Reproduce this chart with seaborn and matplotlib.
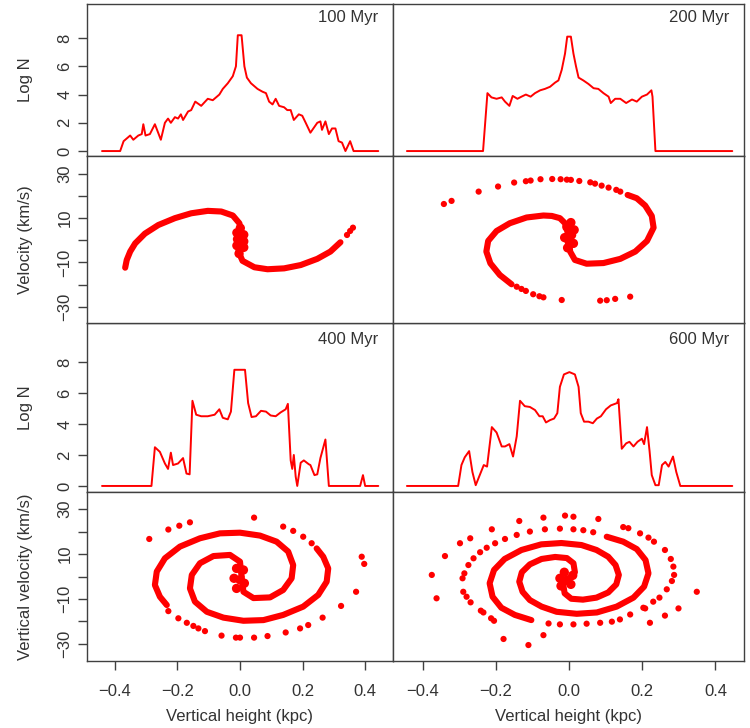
import matplotlib
matplotlib.use("Agg")
import matplotlib.pyplot as plt
import seaborn as sns

# ---------------- data: Log N histograms ----------------
h100_x = [-0.441,-0.383,-0.372,-0.351,-0.341,-0.325,-0.314,-0.309,-0.302,-0.288,-0.272,-0.253,-0.240,-0.230,-0.221,-0.208,-0.198,-0.189,-0.182,-0.166,-0.156,-0.143,-0.124,-0.103,-0.087,-0.066,-0.055,-0.039,-0.023,-0.013,-0.007,0.001,0.005,0.014,0.022,0.035,0.056,0.072,0.083,0.093,0.104,0.114,0.125,0.141,0.151,0.162,0.172,0.188,0.199,0.210,0.225,0.247,0.257,0.262,0.273,0.284,0.294,0.305,0.315,0.326,0.337,0.352,0.363,0.442]
h100_y = [0,0,0.7,1.1,0.8,1.1,1.2,1.9,1.1,1.2,1.9,0.8,2.0,2.3,2.0,2.4,2.3,2.6,2.2,2.8,2.9,3.5,3.2,3.7,3.6,4.0,4.4,4.8,5.3,6.0,8.2,8.2,8.2,6.0,5.2,4.8,4.4,4.2,4.1,3.5,3.3,3.7,3.2,3.1,2.9,2.9,2.2,2.6,2.5,2.0,1.3,2.0,2.1,1.5,2.1,1.2,1.6,1.6,0.7,0.6,0.0,0.7,0.0,0.0]

h200_x = [-0.443,-0.235,-0.223,-0.212,-0.198,-0.184,-0.175,-0.163,-0.154,-0.141,-0.130,-0.118,-0.105,-0.093,-0.079,-0.066,-0.052,-0.038,-0.029,-0.020,-0.011,-0.005,0.005,0.012,0.019,0.026,0.039,0.053,0.067,0.080,0.094,0.108,0.114,0.126,0.140,0.156,0.172,0.185,0.199,0.213,0.225,0.228,0.236,0.446]
h200_y = [0,0,4.1,3.8,3.7,3.8,3.5,3.2,3.9,3.7,3.85,4.0,3.85,4.1,4.3,4.4,4.55,4.85,5.0,5.75,6.9,8.1,8.1,6.9,6.0,5.2,5.0,4.75,4.45,4.4,4.1,3.85,3.4,3.7,3.7,3.4,3.65,3.5,3.85,4.0,4.3,3.85,0,0]

h400_x = [-0.441,-0.283,-0.272,-0.256,-0.240,-0.230,-0.221,-0.214,-0.198,-0.182,-0.171,-0.161,-0.152,-0.140,-0.124,-0.103,-0.081,-0.066,-0.055,-0.039,-0.029,-0.018,-0.005,0.016,0.026,0.037,0.051,0.067,0.083,0.098,0.114,0.130,0.146,0.153,0.162,0.167,0.172,0.178,0.183,0.194,0.204,0.220,0.225,0.238,0.247,0.257,0.273,0.284,0.384,0.393,0.400,0.442]
h400_y = [0,0,2.5,2.2,1.45,1.1,2.15,1.35,1.45,1.8,0.8,0.75,5.5,4.6,4.5,4.5,4.6,4.95,4.4,4.3,4.8,7.5,7.5,7.5,5.35,4.45,4.5,4.85,4.8,4.55,4.5,4.75,4.95,5.3,1.65,1.1,2.0,0.6,0,1.5,1.65,1.4,1.35,0.7,0.75,1.8,3.0,0,0,0.7,0,0]

h600_x = [-0.443,-0.303,-0.294,-0.285,-0.273,-0.264,-0.255,-0.244,-0.233,-0.224,-0.211,-0.198,-0.184,-0.175,-0.163,-0.153,-0.143,-0.134,-0.121,-0.107,-0.093,-0.081,-0.072,-0.063,-0.052,-0.041,-0.032,-0.025,-0.014,0.001,0.016,0.026,0.032,0.041,0.053,0.065,0.076,0.087,0.101,0.114,0.131,0.135,0.144,0.156,0.165,0.176,0.187,0.199,0.205,0.213,0.220,0.226,0.236,0.245,0.254,0.263,0.272,0.284,0.293,0.304,0.446]
h600_y = [0,0,1.35,1.85,2.25,0.9,0.05,0.7,1.35,1.25,3.8,3.45,2.55,2.55,2.7,1.9,3.2,5.5,5.15,5.1,4.9,4.5,4.5,4.1,4.25,4.35,4.7,6.4,7.2,7.35,7.2,6.4,4.7,4.15,4.15,4.05,4.35,4.5,4.95,5.2,5.35,5.6,2.4,2.75,2.85,2.55,2.85,3.05,2.7,3.8,2.25,0.7,0.05,0.05,1.35,1.55,1.25,1.9,0.9,0,0]

# ---------------- data: phase-space (height, velocity) ----------------
# 100 Myr
v100_arm_x = [-0.367,-0.362,-0.351,-0.335,-0.304,-0.261,-0.208,-0.156,-0.103,-0.060,-0.023,-0.002,0.005,0.001,-0.005,0.008,0.046,0.088,0.141,0.194,0.247,0.289,0.321]
v100_arm_v = [-12.4,-8.9,-5.1,-1.4,3.0,6.9,10.0,12.2,13.3,13.0,11.2,7.7,3.6,-0.9,-5.1,-9.3,-12.2,-13.1,-12.7,-11.2,-8.4,-5.1,-0.9]
v100_dot_x = [0.342,0.352,0.361]
v100_dot_v = [2.4,4.2,5.7]
v100_core_x = [-0.010,0.012,-0.010,0.012,0.001,-0.003,0.012,-0.008]
v100_core_v = [3.4,2.5,-2.4,-3.2,5.5,-6.0,-0.5,0.5]

# 200 Myr
v200_arm1_x = [-0.002,-0.011,-0.025,-0.047,-0.070,-0.116,-0.162,-0.198,-0.221,-0.226,-0.215,-0.189,-0.157]
v200_arm1_v = [2.4,7.7,10.0,11.0,11.2,10.3,7.7,4.2,-0.3,-5.1,-10.4,-15.7,-19.9]
v200_arm2_x = [0.001,0.003,0.016,0.048,0.094,0.140,0.181,0.213,0.231,0.226,0.208,0.185,0.160]
v200_arm2_v = [-1.4,-5.1,-8.9,-10.6,-10.3,-8.4,-5.1,-0.3,5.7,11.0,15.7,19.0,20.5]
v200_dot_x = [-0.143,-0.130,-0.118,-0.098,-0.081,-0.070,-0.020,0.085,0.103,0.126,0.167,
              0.140,0.129,0.108,0.089,0.071,0.058,0.028,0.005,-0.006,-0.023,-0.046,-0.078,-0.105,-0.118,-0.150,-0.194,-0.247,-0.321,-0.342]
v200_dot_v = [-21.0,-22.0,-22.9,-24.4,-25.3,-25.8,-27.0,-27.3,-27.1,-26.5,-25.5,
              22.0,22.8,23.8,24.7,25.6,26.2,26.8,27.3,27.4,27.6,27.7,27.6,27.0,26.7,26.1,24.3,22.0,17.8,16.4]
v200_core_x = [-0.006,0.007,0.012,-0.004,-0.012,0.014,0.000,0.005]
v200_core_v = [6.0,2.4,-1.4,-3.4,1.2,4.7,-0.5,8.0]

# 400 Myr
v400_armA_x = [0.005,0.000,-0.032,-0.085,-0.128,-0.154,-0.160,-0.144,-0.106,-0.053,0.011,0.075,0.138,0.202,0.250,0.277,0.282,0.266,0.245]
v400_armA_v = [-0.1,6.6,9.6,9.1,5.9,0.7,-5.3,-11.2,-15.7,-18.3,-19.7,-19.4,-17.1,-13.4,-8.2,-2.3,3.6,8.8,12.5]
v400_armB_x = [0.005,0.011,0.043,0.096,0.138,0.165,0.170,0.154,0.117,0.064,0.000,-0.064,-0.128,-0.192,-0.240,-0.266,-0.272,-0.256,-0.234]
v400_armB_v = [0.0,-6.8,-9.6,-9.3,-6.0,-0.8,5.1,11.1,15.5,18.2,19.5,19.2,17.0,13.3,8.1,2.2,-3.8,-9.0,-12.7]
v400_dot_x = [0.229,0.202,0.170,0.138,0.045,-0.160,-0.194,-0.229,-0.290,
              -0.229,-0.197,-0.170,-0.149,-0.133,-0.112,-0.059,-0.013,0.000,0.045,0.088,0.146,0.192,0.218,0.264,0.323,0.371,0.397,0.389]
v400_dot_v = [14.8,17.7,20.3,22.2,26.2,24.1,22.6,20.9,16.7,
              -15.4,-18.6,-20.6,-22.0,-23.1,-24.3,-26.3,-27.2,-27.2,-27.2,-26.5,-24.9,-23.1,-21.6,-18.3,-13.1,-6.8,5.6,8.8]
v400_core_x = [-0.011,-0.019,-0.011,0.014,0.011,0.000]
v400_core_v = [3.6,-0.8,-5.3,-3.0,2.9,-1.5]

# 600 Myr
v600_armA_x = [0.003,0.016,0.012,-0.006,-0.038,-0.075,-0.107,-0.129,-0.136,-0.127,-0.107,-0.075,-0.034,0.021,0.076,0.130,0.176,0.205,0.217,0.209,0.185,0.148,0.103]
v600_armA_v = [-0.8,1.9,5.9,8.2,8.7,7.8,5.4,1.9,-2.3,-6.8,-10.5,-13.4,-15.7,-16.6,-16.0,-13.4,-9.4,-4.5,1.4,7.3,12.2,15.5,17.7]
v600_armB_x = [-0.003,-0.016,-0.012,0.006,0.038,0.075,0.107,0.129,0.136,0.127,0.107,0.075,0.034,-0.021,-0.076,-0.130,-0.176,-0.205,-0.217,-0.209,-0.185,-0.148,-0.103]
v600_armB_v = [-0.8,-3.5,-7.5,-9.9,-10.3,-9.4,-7.1,-3.5,0.7,5.1,8.8,11.8,14.0,14.9,14.3,11.8,7.8,2.9,-3.0,-9.0,-13.9,-17.1,-19.4]
v600_dot_x = [0.066,0.039,0.012,-0.025,-0.066,-0.107,-0.143,-0.175,-0.202,-0.225,-0.243,-0.261,-0.275,-0.286,-0.291,-0.289,-0.280,-0.269,-0.241,-0.234,-0.213,-0.205,
              -0.056,-0.025,0.012,0.048,0.085,0.117,0.139,0.167,0.203,0.230,0.247,0.267,0.281,0.287,0.285,0.278,0.262,0.232,0.217,0.194,0.162,0.148,
              0.080,0.012,-0.011,-0.070,-0.136,-0.211,-0.270,-0.298,-0.339,-0.375,-0.362,0.349,0.299,0.262,0.221,0.208,-0.070,-0.111,-0.179]
v600_dot_v = [19.7,20.6,21.0,21.3,21.0,20.0,18.5,16.7,14.8,12.8,10.8,8.1,5.1,1.4,-0.8,-6.8,-9.0,-11.5,-15.2,-16.0,-18.6,-19.7,
              -20.9,-21.3,-21.3,-21.0,-20.6,-20.1,-19.1,-16.9,-13.9,-11.2,-9.4,-5.7,-2.0,0.7,4.4,7.8,11.8,15.5,17.3,19.2,21.5,22.0,
              25.6,26.6,27.1,26.2,24.7,21.0,17.0,14.8,9.1,0.7,-9.7,-6.8,-14.2,-17.4,-20.6,-14.2,-26.1,-30.5,-27.8]
v600_core_x = [-0.025,-0.013,0.005,-0.022,-0.006,0.010]
v600_core_v = [-0.8,1.9,-3.5,-4.2,-1.6,0.5]

panel_titles = ["100 Myr", "200 Myr", "400 Myr", "600 Myr"]
logn_ticks = [0, 2, 4, 6, 8]
vel_ticks = [-30, -20, -10, 0, 10, 20, 30]
vel_ticklabels = ["\u221230", "", "\u221210", "", "10", "", "30"]
x_ticks = [-0.4, -0.2, 0.0, 0.2, 0.4]
x_ticklabels = ["\u22120.4", "\u22120.2", "0.0", "0.2", "0.4"]

# ---------------- style ----------------
sns.set_style("ticks")
plt.rcParams["font.family"] = ["Liberation Sans", "DejaVu Sans"]
TXT = "#333333"
RED = "#ff0000"

W, H = 750, 728
fig = plt.figure(figsize=(7.5, 7.28), dpi=100, facecolor="white")

cols = [(87, 393), (393, 744)]
rows = [(4, 156), (156, 323), (323, 492), (492, 661)]
xlims = [(-0.489, 0.489), (-0.481, 0.478)]
ylims = [(-0.35, 10.41), (-37.4, 38.1), (-0.39, 10.52), (-37.6, 37.6)]


def make_ax(r, c):
    x0, x1 = cols[c]
    y0, y1 = rows[r]
    return fig.add_axes([x0 / W, 1 - y1 / H, (x1 - x0) / W, (y1 - y0) / H])


def style(ax, r, c):
    for s in ax.spines.values():
        s.set_color("#404040")
        s.set_linewidth(1.0)
    ax.set_xlim(xlims[c])
    ax.set_ylim(ylims[r])
    ax.set_xlabel("")
    ax.set_ylabel("")
    ax.tick_params(direction="out", length=6.5, width=1, color="#404040",
                   labelsize=12, labelcolor=TXT)
    ax.tick_params(axis="y", pad=4)
    ax.tick_params(axis="x", pad=10)
    if c == 0:
        if r in (0, 2):
            ax.set_yticks(logn_ticks)
            ax.set_yticklabels([str(t) for t in logn_ticks])
        else:
            ax.set_yticks(vel_ticks)
            ax.set_yticklabels(vel_ticklabels)
        for lab in ax.get_yticklabels():
            lab.set_rotation(90)
            lab.set_va("center")
        ylabels = ["Log N", "Velocity (km/s)", "Log N", "Vertical velocity (km/s)"]
        ax.set_ylabel(ylabels[r], fontsize=12, color=TXT)
        ax.yaxis.set_label_coords(-(87 - 33) / 306, 0.5)
    else:
        ax.set_yticks([])
    if r == 3:
        ax.set_xticks(x_ticks)
        ax.set_xticklabels(x_ticklabels)
        ax.set_xlabel("Vertical height (kpc)", fontsize=12, color=TXT)
        ax.xaxis.set_label_coords(0.5, -(716 - 661) / 169)
        ax.xaxis.label.set_va("center")
    else:
        ax.set_xticks([])


hists = [(h100_x, h100_y), (h200_x, h200_y), (h400_x, h400_y), (h600_x, h600_y)]
for i, (hx, hy) in enumerate(hists):
    r = 0 if i < 2 else 2
    c = i % 2
    ax = make_ax(r, c)
    sns.lineplot(x=hx, y=hy, ax=ax, color=RED, linewidth=1.4, estimator=None, sort=False)
    style(ax, r, c)
    off = -6 if r == 0 else -9
    ax.annotate(panel_titles[i], xy=(1, 1), xycoords="axes fraction",
                xytext=(-15, off), textcoords="offset pixels",
                ha="right", va="top", fontsize=12, color=TXT)

ARM_LW = 4.4
DOT_S = 20
CORE_S = 45


def arm(ax, x, v):
    sns.lineplot(x=x, y=v, ax=ax, color=RED, linewidth=ARM_LW, estimator=None,
                 sort=False, solid_capstyle="round", solid_joinstyle="round")


def dots(ax, x, v, s):
    sns.scatterplot(x=x, y=v, ax=ax, color=RED, s=s, edgecolor="none", linewidth=0)


ax = make_ax(1, 0)
arm(ax, v100_arm_x, v100_arm_v)
dots(ax, v100_dot_x, v100_dot_v, DOT_S)
dots(ax, v100_core_x, v100_core_v, CORE_S)
style(ax, 1, 0)

ax = make_ax(1, 1)
arm(ax, v200_arm1_x, v200_arm1_v)
arm(ax, v200_arm2_x, v200_arm2_v)
dots(ax, v200_dot_x, v200_dot_v, DOT_S)
dots(ax, v200_core_x, v200_core_v, CORE_S)
style(ax, 1, 1)

ax = make_ax(3, 0)
arm(ax, v400_armA_x, v400_armA_v)
arm(ax, v400_armB_x, v400_armB_v)
dots(ax, v400_dot_x, v400_dot_v, DOT_S)
dots(ax, v400_core_x, v400_core_v, CORE_S)
style(ax, 3, 0)

ax = make_ax(3, 1)
arm(ax, v600_armA_x, v600_armA_v)
arm(ax, v600_armB_x, v600_armB_v)
dots(ax, v600_dot_x, v600_dot_v, DOT_S)
dots(ax, v600_core_x, v600_core_v, CORE_S)
style(ax, 3, 1)

fig.savefig("out.png", dpi=100, facecolor="white")
